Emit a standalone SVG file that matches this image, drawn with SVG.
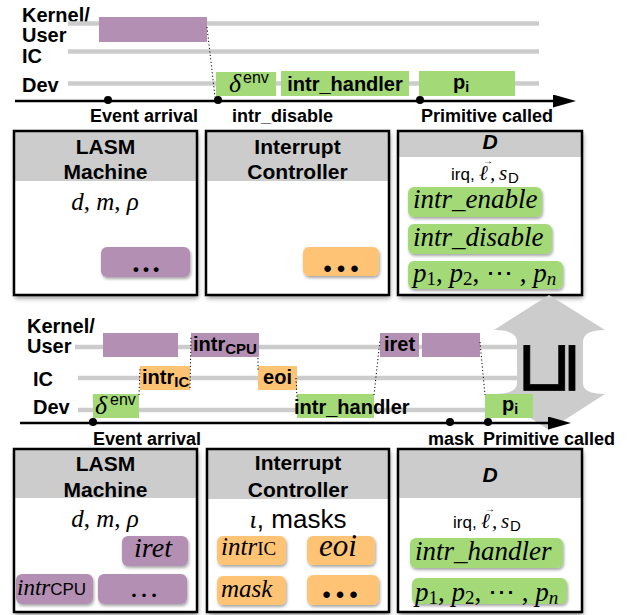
<svg xmlns="http://www.w3.org/2000/svg" width="629" height="615" viewBox="0 0 629 615">
<defs>
<filter id="sh" x="-10%" y="-10%" width="125%" height="125%"><feDropShadow dx="1" dy="3" stdDeviation="2.5" flood-color="#000" flood-opacity="0.45"/></filter>
<filter id="shs" x="-10%" y="-20%" width="130%" height="150%"><feDropShadow dx="1" dy="2" stdDeviation="1.5" flood-color="#000" flood-opacity="0.35"/></filter>
<marker id="ah" markerUnits="userSpaceOnUse" markerWidth="23" markerHeight="13" viewBox="0 0 23 13" refX="0" refY="6.5" orient="auto"><path d="M0,0 L23,6.5 L0,13 Z" fill="#000"/></marker>
</defs>
<style>
.lbl{font-family:"Liberation Sans",Arial,sans-serif;font-weight:bold;font-size:20px;fill:#000}
.ttl{font-size:21px}
.ax{font-family:"Liberation Sans",Arial,sans-serif;font-weight:bold;font-size:18px;fill:#000}
.gl{stroke:#cccccc;stroke-width:4.5}
.axis{stroke:#000;stroke-width:2.5}
.pur{fill:#b38fb3}
.org{fill:#ffc374}
.grn{fill:#a3d977}
.dotl{stroke:#000;stroke-width:1;stroke-dasharray:1.2 2.3;fill:none}
.bg{fill:#fff}
.brd{fill:none;stroke:#000;stroke-width:2.5}
.hdr{fill:#cccccc}
.math{font-family:"Liberation Serif","Times New Roman",serif;font-style:italic;fill:#000}
.rm{font-family:"Liberation Serif","Times New Roman",serif;font-style:normal}
.sans{font-family:"Liberation Sans",Arial,sans-serif;font-style:normal;font-weight:normal;fill:#000}
.vec{font-family:"Liberation Sans",Arial,sans-serif;font-size:10px;fill:#000}
.dots{font-family:"Liberation Serif","Times New Roman",serif;font-weight:bold;text-anchor:middle}
.dotn{font-family:"Liberation Serif","Times New Roman",serif;font-weight:normal;text-anchor:middle}
.mid{text-anchor:middle}
</style>

<!-- Timeline 1 -->
<g id="timeline1">
<text class="lbl" x="22" y="22">Kernel/</text>
<text class="lbl" x="22" y="42">User</text>
<text class="lbl" x="22" y="63">IC</text>
<text class="lbl" x="22" y="92">Dev</text>
<line class="gl" x1="68" y1="23.5" x2="539" y2="23.5"/>
<line class="gl" x1="68" y1="51.5" x2="539" y2="51.5"/>
<line class="gl" x1="68" y1="83.5" x2="539" y2="83.5"/>
</g>
<g id="t1-kernel"><rect class="pur" x="99" y="17" width="108" height="25"/></g>
<g id="t1-denv"><rect class="grn" x="216" y="72" width="60" height="24"/>
<text class="math" x="229" y="92" font-size="26">δ</text><text class="sans" x="243" y="83" font-size="16">env</text></g>
<g id="t1-handler"><rect class="grn" x="281" y="71" width="128" height="25"/>
<text class="lbl mid" x="345" y="91">intr_handler</text></g>
<g id="t1-pi"><rect class="grn" x="419" y="71" width="96" height="25"/>
<text class="lbl" x="453" y="89">p<tspan font-size="14" dy="3">i</tspan></text></g>
<g id="t1-axis">
<line class="axis" x1="15" y1="101" x2="553" y2="101" marker-end="url(#ah)"/>
<circle cx="108" cy="100" r="4"/><circle cx="218" cy="100" r="4"/><circle cx="420" cy="100" r="4"/>
<text class="ax" x="90" y="122">Event arrival</text>
<text class="ax" x="232" y="122">intr_disable</text>
<text class="ax" x="421" y="122">Primitive called</text>
</g>

<!-- Boxes row 1 -->
<g id="box1-lasm">
<rect class="bg" x="14" y="131" width="183" height="164" filter="url(#sh)"/>
<rect class="hdr" x="14" y="131" width="183" height="50"/>
<rect class="brd" x="14" y="131" width="183" height="164"/>
<text class="lbl ttl mid" x="105.5" y="154">LASM</text>
<text class="lbl ttl mid" x="105.5" y="179">Machine</text>
<text class="math mid" x="105" y="210" font-size="25">d<tspan class="rm">, </tspan>m<tspan class="rm">, </tspan>ρ</text>
<rect class="pur" x="101" y="247" width="89" height="30" rx="6" filter="url(#shs)"/>
<text class="dots" x="146" y="272" font-size="30">…</text>
</g>
<g id="box1-ic">
<rect class="bg" x="206" y="131" width="183" height="164" filter="url(#sh)"/>
<rect class="hdr" x="206" y="131" width="183" height="50"/>
<rect class="brd" x="206" y="131" width="183" height="164"/>
<text class="lbl ttl mid" x="297.5" y="154">Interrupt</text>
<text class="lbl ttl mid" x="297.5" y="179">Controller</text>
<rect class="org" x="303" y="247" width="76" height="29" rx="6" filter="url(#shs)"/>
<text class="dots" x="341" y="272" font-size="40">…</text>
</g>
<g id="box1-d">
<rect class="bg" x="398" y="131" width="184" height="164" filter="url(#sh)"/>
<rect class="hdr" x="398" y="131" width="184" height="26"/>
<rect class="brd" x="398" y="131" width="184" height="164"/>
<text class="lbl ttl mid" x="490" y="149" font-style="italic">D</text>
<text class="sans" x="451" y="180" font-size="17">irq,</text>
<text class="math" x="479" y="180" font-size="21">ℓ</text>
<text class="vec" x="483" y="164">→</text>
<text class="math" x="490" y="180" font-size="21">,</text>
<text class="math" x="499" y="180" font-size="21">s</text>
<text class="sans" x="508" y="183" font-size="15">D</text>
<rect class="grn" x="408" y="187" width="134" height="30" rx="6" filter="url(#shs)"/>
<text class="math" x="413" y="208" font-size="27">intr_enable</text>
<rect class="grn" x="408" y="224" width="144" height="30" rx="6" filter="url(#shs)"/>
<text class="math" x="413" y="246" font-size="27">intr_disable</text>
<rect class="grn" x="408" y="261" width="155" height="28" rx="6" filter="url(#shs)"/>
<text class="math" x="413" y="282" font-size="27">p<tspan class="rm" font-size="19" dy="3">1</tspan><tspan class="rm" dy="-3">, </tspan>p<tspan class="rm" font-size="19" dy="3">2</tspan><tspan class="rm" dy="-3">, ⋯ , </tspan>p<tspan font-size="19" dy="3">n</tspan></text>
</g>

<!-- Timeline 2 -->
<g id="timeline2">
<text class="lbl" x="27" y="333">Kernel/</text>
<text class="lbl" x="27" y="353">User</text>
<text class="lbl" x="33" y="386">IC</text>
<text class="lbl" x="33" y="414">Dev</text>
<line class="gl" x1="75" y1="347" x2="540" y2="347"/>
<line class="gl" x1="78" y1="378" x2="540" y2="378"/>
<line class="gl" x1="78" y1="410" x2="540" y2="410"/>
</g>
<g id="refines">
<path d="M549,295 L605,330 Q583,330 583,342 L583,383 Q583,394 605,394 L549,430 L494,394 Q517,394 517,383 L517,342 Q517,330 494,330 Z" fill="#cccccc"/>
<text x="0" y="0" transform="translate(544,368) rotate(-90)" font-family="DejaVu Sans" font-size="72" stroke="#000" stroke-width="0.8" text-anchor="middle" dominant-baseline="central">⊑</text>
</g>
<g id="t2-kernel1"><rect class="pur" x="103" y="333" width="75" height="24"/></g>
<g id="t2-intrcpu"><rect class="pur" x="191" y="333" width="68" height="24"/>
<text class="lbl" x="193" y="351">intr<tspan font-size="15" dy="3">CPU</tspan></text></g>
<g id="t2-iret"><rect class="pur" x="380" y="333" width="39" height="24"/>
<text class="lbl mid" x="399.5" y="351">iret</text></g>
<g id="t2-kernel2"><rect class="pur" x="422" y="333" width="58" height="24"/></g>
<g id="t2-intric"><rect class="org" x="140" y="366" width="50" height="24"/>
<text class="lbl" x="142" y="384">intr<tspan font-size="15" dy="3">IC</tspan></text></g>
<g id="t2-eoi"><rect class="org" x="258" y="366" width="39" height="24"/>
<text class="lbl mid" x="277.5" y="384">eoi</text></g>
<g id="t2-denv"><rect class="grn" x="93" y="394" width="46" height="24"/>
<text class="math" x="95" y="414" font-size="26">δ</text><text class="sans" x="110" y="405" font-size="16">env</text></g>
<g id="t2-handler"><rect class="grn" x="297" y="394" width="77" height="24"/>
<text class="lbl" x="294" y="414">intr_handler</text></g>
<g id="t2-pi"><rect class="grn" x="485" y="394" width="48" height="24"/>
<text class="lbl" x="502" y="411">p<tspan font-size="14" dy="3">i</tspan></text></g>
<g id="t2-axis">
<line class="axis" x1="20" y1="423" x2="548" y2="423" marker-end="url(#ah)"/>
<circle cx="93" cy="422" r="4"/><circle cx="450" cy="422" r="4"/><circle cx="488" cy="422" r="4"/>
<text class="ax" x="93" y="445">Event arrival</text>
<text class="ax" x="428" y="445">mask</text>
<text class="ax" x="483" y="445">Primitive called</text>
</g>

<!-- Connectors -->
<g id="connectors">
<line class="dotl" x1="207" y1="27" x2="215" y2="97"/>
<line class="dotl" x1="139" y1="395" x2="140" y2="367"/>
<line class="dotl" x1="190" y1="388" x2="191" y2="337"/>
<line class="dotl" x1="258" y1="358" x2="258" y2="372"/>
<line class="dotl" x1="296" y1="378" x2="297" y2="398"/>
<line class="dotl" x1="374" y1="395" x2="380" y2="340"/>
<line class="dotl" x1="480" y1="342" x2="485" y2="395"/>
</g>

<!-- Boxes row 2 -->
<g id="box2-lasm">
<rect class="bg" x="14" y="449" width="183" height="163" filter="url(#sh)"/>
<rect class="hdr" x="14" y="449" width="183" height="49"/>
<rect class="brd" x="14" y="449" width="183" height="163"/>
<text class="lbl ttl mid" x="105.5" y="471">LASM</text>
<text class="lbl ttl mid" x="105.5" y="497">Machine</text>
<text class="math mid" x="105" y="527" font-size="25">d<tspan class="rm">, </tspan>m<tspan class="rm">, </tspan>ρ</text>
<rect class="pur" x="122" y="536" width="66" height="30" rx="6" filter="url(#shs)"/>
<text class="math mid" x="153" y="557" font-size="28">iret</text>
<rect class="pur" x="16" y="574" width="77" height="30" rx="6" filter="url(#shs)"/>
<text class="math" x="17" y="595" font-size="23">intr<tspan class="sans" font-size="17">CPU</tspan></text>
<rect class="pur" x="98" y="574" width="89" height="30" rx="6" filter="url(#shs)"/>
<text class="dotn" x="144" y="597" font-size="30">…</text>
</g>
<g id="box2-ic">
<rect class="bg" x="207" y="449" width="182" height="163" filter="url(#sh)"/>
<rect class="hdr" x="207" y="449" width="182" height="50"/>
<rect class="brd" x="207" y="449" width="182" height="163"/>
<text class="lbl ttl mid" x="298" y="470">Interrupt</text>
<text class="lbl ttl mid" x="298" y="497">Controller</text>
<text class="math mid" x="298" y="528" font-size="26">ι<tspan class="sans">, masks</tspan></text>
<rect class="org" x="217" y="536" width="69" height="29" rx="6" filter="url(#shs)"/>
<text class="math" x="221" y="555" font-size="25">intr<tspan class="rm" font-size="19">IC</tspan></text>
<rect class="org" x="307" y="536" width="68" height="29" rx="6" filter="url(#shs)"/>
<text class="math mid" x="338" y="556" font-size="31">eoi</text>
<rect class="org" x="217" y="576" width="69" height="29" rx="6" filter="url(#shs)"/>
<text class="math" x="221" y="597" font-size="25">mask</text>
<rect class="org" x="307" y="575" width="72" height="30" rx="6" filter="url(#shs)"/>
<text class="dots" x="340" y="598" font-size="40">…</text>
</g>
<g id="box2-d">
<rect class="bg" x="398" y="449" width="184" height="163" filter="url(#sh)"/>
<rect class="hdr" x="398" y="449" width="184" height="49"/>
<rect class="brd" x="398" y="449" width="184" height="163"/>
<text class="lbl ttl mid" x="490" y="482" font-style="italic">D</text>
<text class="sans" x="453" y="528" font-size="17">irq,</text>
<text class="math" x="481" y="528" font-size="21">ℓ</text>
<text class="vec" x="485" y="512">→</text>
<text class="math" x="492" y="528" font-size="21">,</text>
<text class="math" x="501" y="528" font-size="21">s</text>
<text class="sans" x="510" y="531" font-size="15">D</text>
<rect class="grn" x="410" y="538" width="153" height="30" rx="6" filter="url(#shs)"/>
<text class="math" x="415" y="560" font-size="27">intr_handler</text>
<rect class="grn" x="412" y="578" width="155" height="26" rx="6" filter="url(#shs)"/>
<text class="math" x="415" y="601" font-size="27">p<tspan class="rm" font-size="19" dy="3">1</tspan><tspan class="rm" dy="-3">, </tspan>p<tspan class="rm" font-size="19" dy="3">2</tspan><tspan class="rm" dy="-3">, ⋯ , </tspan>p<tspan font-size="19" dy="3">n</tspan></text>
</g>
</svg>
